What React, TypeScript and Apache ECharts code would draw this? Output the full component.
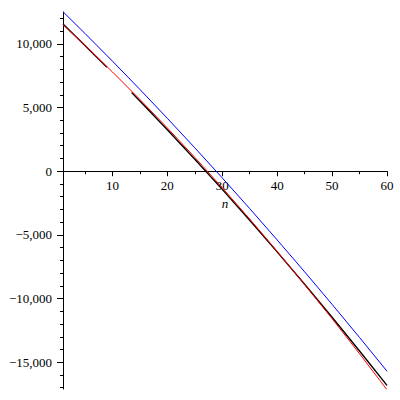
import { useEffect, useRef } from "react";
import * as echarts from "echarts";

const nValues = [1, 5, 10, 15, 20, 25, 30, 35, 40, 45, 50, 55, 60];
const blueValues = [12520, 10816, 8643, 6422, 4154, 1839, -525, -2935, -5394, -7900, -10454, -13055, -15704];
const redValues = [11500, 9883, 7795, 5633, 3397, 1087, -1298, -3756, -6290, -8896, -11578, -14332, -17162];

// black curve has a gap between about n=9 and n=13.5
const blackN = [1, 5, 9, 11, 13.5, 15, 20, 25, 30, 35, 40, 45, 50, 55, 60];
const blackValues: (number | null)[] = [11550, 9871, 8157, null, 6186, 5518, 3258, 944, -1428, -3853, -6335, -8872, -11465, -14113, -16817];

const xMajorTicks = [10, 20, 30, 40, 50, 60];
const xMinorTicks = [5, 15, 25, 35, 45, 55];
const yMajorTicks = [-15000, -10000, -5000, 0, 5000, 10000];
const yMinorTicks = [-17000, -16000, -14000, -13000, -12000, -11000, -9000, -8000, -7000, -6000, -4000, -3000, -2000, -1000, 1000, 2000, 3000, 4000, 6000, 7000, 8000, 9000, 11000, 12000];

const Y_MIN = -17100;
const Y_MAX = 12500;
const GRID_TOP = 12;
const GRID_BOTTOM = 11;
const font = "Liberation Serif";

const fmt = (v: number) => {
    const s = Math.abs(v).toLocaleString("en-US");
    return v < 0 ? "\u2212" + s : s;
};

const App = () => {
    const chartRef = useRef<HTMLDivElement>(null);

    useEffect(() => {
        if (!chartRef.current) return;
        const chart = echarts.init(chartRef.current, undefined, { renderer: "svg" });

        // move the x axis up from the grid bottom to y = 0
        const plotH = 400 - GRID_TOP - GRID_BOTTOM;
        const zeroOffset = -(plotH * (0 - Y_MIN)) / (Y_MAX - Y_MIN);

        const xBase = {
            type: "value",
            min: 1,
            max: 60,
            position: "bottom",
            offset: zeroOffset,
            splitLine: { show: false },
        };
        const yBase = {
            type: "value",
            min: Y_MIN,
            max: Y_MAX,
            position: "left",
            splitLine: { show: false },
        };

        chart.setOption({
            animation: false,
            grid: { left: 63, right: 13, top: GRID_TOP, bottom: GRID_BOTTOM, containLabel: false },
            xAxis: [
                {
                    ...xBase,
                    name: "n",
                    nameLocation: "middle",
                    nameGap: 24,
                    nameTextStyle: { fontFamily: font, fontStyle: "italic", fontSize: 13, color: "#000" },
                    axisLine: { onZero: false, lineStyle: { color: "#000", width: 1 } },
                    axisTick: { customValues: xMajorTicks, length: 5, lineStyle: { color: "#000" } },
                    axisLabel: {
                        customValues: xMajorTicks,
                        margin: 8,
                        fontFamily: font,
                        fontSize: 13,
                        color: "#000",
                    },
                },
                {
                    ...xBase,
                    axisLine: { show: false, onZero: false },
                    axisTick: { customValues: xMinorTicks, length: 3, lineStyle: { color: "#000" } },
                    axisLabel: { show: false },
                },
            ],
            yAxis: [
                {
                    ...yBase,
                    axisLine: { onZero: false, lineStyle: { color: "#000", width: 1 } },
                    axisTick: { customValues: yMajorTicks, length: 6, lineStyle: { color: "#000" } },
                    axisLabel: {
                        customValues: yMajorTicks,
                        margin: 11,
                        fontFamily: font,
                        fontSize: 13,
                        color: "#000",
                        formatter: (v: number) => fmt(v),
                    },
                },
                {
                    ...yBase,
                    axisLine: { show: false, onZero: false },
                    axisTick: { customValues: yMinorTicks, length: 3, lineStyle: { color: "#000" } },
                    axisLabel: { show: false },
                },
            ],
            series: [
                {
                    type: "line",
                    name: "black",
                    xAxisIndex: 0,
                    yAxisIndex: 0,
                    showSymbol: false,
                    connectNulls: false,
                    data: blackN.map((n, i) => [n, blackValues[i] === null ? "-" : blackValues[i]]),
                    lineStyle: { color: "#000", width: 1.4 },
                },
                {
                    type: "line",
                    name: "red",
                    xAxisIndex: 0,
                    yAxisIndex: 0,
                    showSymbol: false,
                    data: nValues.map((n, i) => [n, redValues[i]]),
                    lineStyle: { color: "#ff0000", width: 1 },
                },
                {
                    type: "line",
                    name: "blue",
                    xAxisIndex: 0,
                    yAxisIndex: 0,
                    showSymbol: false,
                    data: nValues.map((n, i) => [n, blueValues[i]]),
                    lineStyle: { color: "#0000ff", width: 1 },
                },
            ],
        });

        return () => {
            chart.dispose();
        };
    }, []);

    return (
        <div
            ref={chartRef}
            style={{ position: "fixed", left: 0, top: 0, width: "400px", height: "400px", background: "#fff" }}
        />
    );
};

export default App;
